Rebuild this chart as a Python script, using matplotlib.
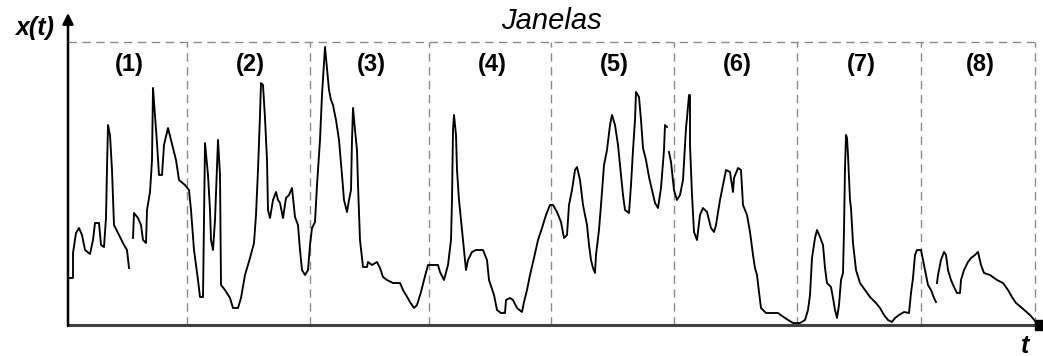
import numpy as np
import matplotlib
matplotlib.use("Agg")
import matplotlib.pyplot as plt

plt.rcParams['font.family'] = ['Liberation Sans', 'DejaVu Sans']

nan = float('nan')

# sampled signal x(t); nan marks the breaks in the trace
T = [0, 0, 5, 5, 8, 11, 14, 17, 22, 25, 27, 31, 33, 36, 38, 39, 40, 42, 44, 46,
     51, 56, 59, 61, nan,
     65, 66, 70, 73, 75, 78, 79, 82, 84, 85, 87, 89, 91, 94, 96, 100, 103, 106,
     108, 111, 117, 121, 123, 126, 130, 132, 135, 137, 140, 142, 143, 145, 147,
     150, 152, 153, 157, 162, 165, 170, 173, 177, 182, 186, 188, 190, 192, 193,
     195, 197, 199, 200, 202, 205, 208, 210, 212, 215, 218, 221, 224, 227, 230,
     232, 234, 237, 240, 242, 244, 247, 249, 252, 254, 257, 259, 261, 263, 265,
     268, 271, 274, 276, 279, 281, 283, 284, 285, 287, 289, 290, 292, 294, 295,
     299, 300, 304, 309, 312, 315, 319, 325, 332, 335, 338, 342, 346, 349, 353,
     356, 360, 363, 370, 372, 376, 380, 383, 384, 385, 386, 388, 389, 391, 393,
     396, 398, 400, 404, 408, 415, 419, 421, 426, 429, 433, 437, 438, 442, 445,
     449, 454, 456, 459, 462, 466, 470, 474, 478, 482, 485, 489, 493, 496, 499,
     501, 504, 507, 509, 512, 515, 519, 521, 523, 525, 527, 528, 531, 533, 536,
     539, 542, 544, 547, 550, 553, 555, 557, 561, 563, 565, 567, 568, 571, 573,
     575, 578, 581, 584, 587, 590, 593, 596, 597, 599, nan,
     601, 603, 606, 609, 612, 615, 618, 619, 621, 622, 622, 624, 626, 629, 632,
     635, 639, 643, 646, 648, 652, 654, 658, 662, 665, 666, 670, 673, 675, 679,
     682, 685, 687, 689, 691, 693, 698, 710, 717, 725, 732, 737, 740, 742, 744,
     747, 749, 752, 755, 757, 759, 763, 765, 767, 769, 771, 773, 775, 776, 777,
     778, 779, 780, 782, 783, 785, 788, 792, 797, 802, 808, 812, 816, 820, 824,
     827, 831, 836, 841, 843, 845, 847, 849, 853, 855, 858, 860, 863, 866, 868,
     nan,
     869, 870, 873, 876, 878, 880, 883, 886, 889, 892, 893, 896, 900, 903, 907,
     910, 913, 916, 922, 929, 935, 940, 944, 948, 954, 962, 968, 972]
X = [0, 47, 47, 72, 92, 97, 90, 75, 71, 85, 102, 102, 80, 78, 107, 157, 200, 190,
     155, 100, 90, 80, 75, 57, nan,
     87, 112, 107, 100, 85, 82, 115, 133, 165, 237, 210, 182, 150, 150, 180, 197,
     185, 173, 165, 145, 140, 135, 115, 75, 45, 28, 28, 182, 150, 115, 85, 75,
     105, 185, 150, 40, 35, 27, 17, 17, 27, 50, 67, 82, 110, 155, 210, 242, 240,
     207, 165, 115, 107, 125, 133, 125, 122, 107, 127, 130, 137, 108, 100, 75,
     55, 50, 55, 80, 97, 103, 140, 185, 230, 278, 257, 235, 225, 220, 205, 185,
     150, 125, 113, 125, 135, 185, 217, 195, 175, 140, 85, 67, 58, 58, 63, 60,
     63, 57, 48, 45, 42, 42, 35, 30, 23, 17, 20, 33, 45, 60, 60, 60, 53, 45, 60,
     85, 125, 195, 210, 190, 155, 125, 105, 75, 55, 65, 73, 75, 75, 65, 45, 30,
     15, 12, 12, 25, 27, 25, 17, 13, 23, 35, 50, 67, 85, 97, 110, 120, 120, 113,
     103, 87, 90, 120, 135, 155, 158, 145, 120, 100, 80, 65, 57, 52, 70, 95,
     120, 160, 175, 200, 210, 200, 180, 150, 130, 115, 112, 140, 175, 205, 233,
     228, 205, 177, 165, 148, 135, 122, 117, 137, 175, 200, 198, nan,
     173, 163, 135, 125, 130, 145, 197, 207, 230, 230, 180, 130, 93, 85, 110,
     117, 113, 97, 93, 100, 125, 135, 155, 153, 133, 147, 157, 155, 120, 110,
     93, 70, 57, 50, 33, 17, 12, 12, 7, 2, 2, 5, 15, 30, 67, 87, 95, 88, 80, 57,
     42, 38, 27, 15, 7, 20, 45, 52, 95, 157, 190, 187, 170, 125, 117, 82, 55,
     42, 35, 28, 22, 17, 10, 5, 3, 7, 10, 13, 12, 32, 47, 70, 75, 75, 65, 50, 40,
     35, 27, 23, nan,
     42, 50, 65, 73, 70, 55, 45, 38, 32, 32, 45, 55, 63, 67, 70, 73, 60, 52, 50,
     45, 42, 35, 28, 22, 17, 10, 3, 0]

# window edges and labels
edges = [119, 242, 361, 483, 606, 729, 853, 967]
starts = [0] + edges[:-1]
labels = ['(1)', '(2)', '(3)', '(4)', '(5)', '(6)', '(7)', '(8)']
top = 283

fig = plt.figure(figsize=(10.43, 3.56), dpi=100)
ax = fig.add_axes([0, 0, 1, 1])
ax.set_xlim(-68, 975)
ax.set_ylim(-31, 325)
ax.axis('off')

# dashed window frame
ax.plot([0, edges[-1]], [top, top], color='#8a8a8a', lw=1, dashes=(6, 4))
for e in edges:
    ax.plot([e, e], [0, top], color='#8a8a8a', lw=1, dashes=(6, 4))
for s, e, lab in zip(starts, edges, labels):
    ax.text((s + e) / 2 + 2, 261, lab, ha='center', va='center',
            fontsize=17, fontweight='bold')

ax.text(483, 296, 'Janelas', ha='center', va='baseline',
        fontsize=21, style='italic')

# signal
ax.plot(T, X, color='black', lw=1.35)

# axes with arrow and end marker
ax.plot([0, 972], [0, 0], color='#404040', lw=2.2, solid_capstyle='butt')
ax.plot(972, 0, 's', ms=7, color='black')
ax.annotate('', xy=(0, 312), xytext=(0, -1),
            arrowprops=dict(arrowstyle='-|>', color='black', lw=1.8,
                            mutation_scale=16, shrinkA=0, shrinkB=0))
ax.text(-33, 290, 'x(t)', ha='center', va='baseline', fontsize=18,
        fontweight='bold', style='italic')
ax.text(957, -28, 't', ha='center', va='baseline', fontsize=18,
        fontweight='bold', style='italic')

fig.savefig('out.png', dpi=100)
